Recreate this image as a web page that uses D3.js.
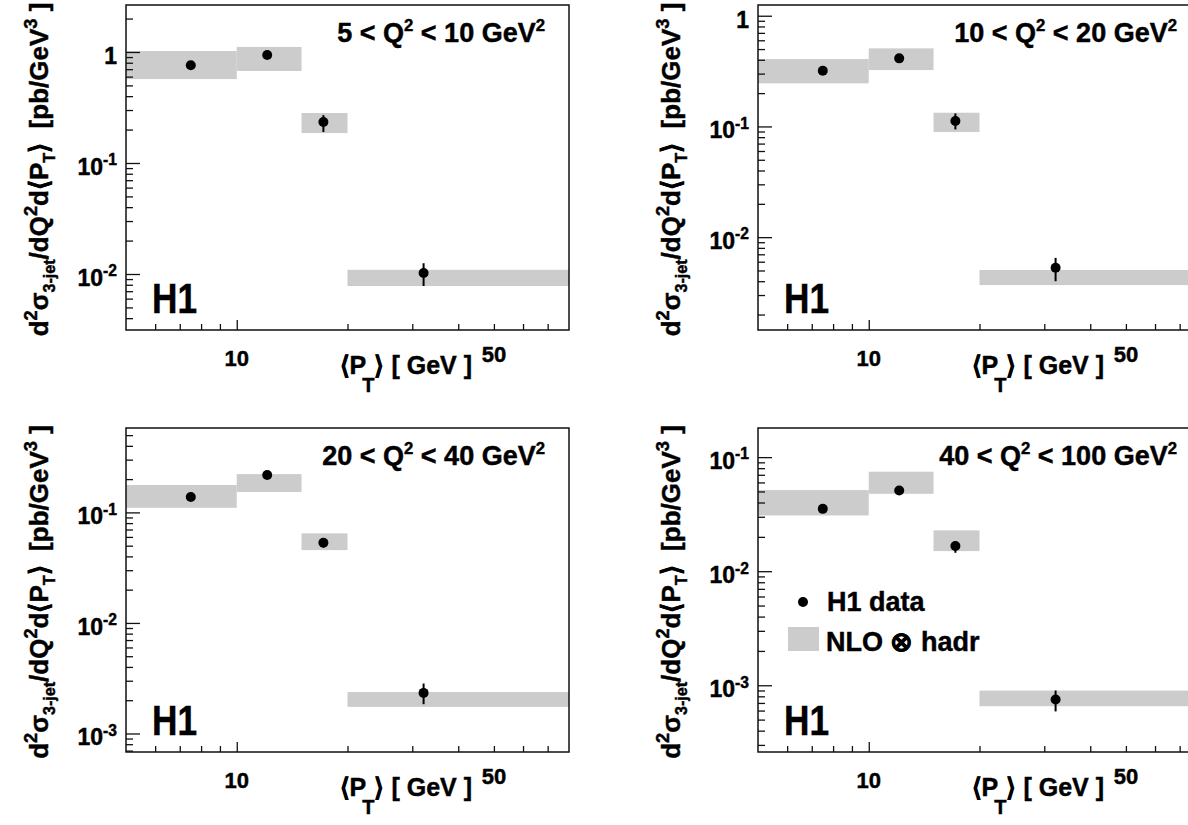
<!DOCTYPE html>
<html><head><meta charset="utf-8">
<script src="https://cdn.jsdelivr.net/npm/d3@7"></script>
<style>
body{margin:0;background:#fff}
svg{display:block}
text{font-family:"Liberation Sans", Arial, Helvetica, sans-serif;font-weight:bold;fill:#000;stroke:#000;stroke-width:0.45px;white-space:pre}
</style>
</head><body>
<svg id="c" width="1188" height="825"></svg>
<script>
// ---------------- data ----------------
const ptBinEdges = [5, 10, 15, 20, 80];
const ptMeans = [7.5, 12.1, 17.2, 32.2];
const xRange = [5, 80];
const xLabelValues = [10, 50];
const xMinorTicks = [6, 7, 8, 9, 20, 30, 40, 50, 60, 70];
const xMajorTicks = [10];

const q2Low = [5, 10, 20, 40];
const q2High = [10, 20, 40, 100];
const yMin = [0.00313, 0.00145, 0.00068, 0.00026];
const yMax = [2.65, 1.25, 0.58, 0.18];

// 5 < Q2 < 10
const dataQ1 = [0.76, 0.94, 0.234, 0.0102];
const errLoQ1 = [0.71, 0.885, 0.19, 0.0078];
const errHiQ1 = [0.81, 0.995, 0.27, 0.0125];
const nloLoQ1 = [0.57, 0.674, 0.186, 0.0078];
const nloHiQ1 = [1.02, 1.11, 0.282, 0.0109];
// 10 < Q2 < 20
const dataQ2 = [0.319, 0.412, 0.112, 0.0053];
const errLoQ2 = [0.30, 0.39, 0.094, 0.0040];
const errHiQ2 = [0.34, 0.435, 0.131, 0.0065];
const nloLoQ2 = [0.245, 0.323, 0.089, 0.00369];
const nloHiQ2 = [0.406, 0.507, 0.133, 0.00505];
// 20 < Q2 < 40
const dataQ3 = [0.138, 0.218, 0.0531, 0.00233];
const errLoQ3 = [0.13, 0.205, 0.048, 0.00184];
const errHiQ3 = [0.146, 0.231, 0.058, 0.00283];
const nloLoQ3 = [0.110, 0.153, 0.0456, 0.00174];
const nloHiQ3 = [0.177, 0.222, 0.0646, 0.00237];
// 40 < Q2 < 100
const dataQ4 = [0.0352, 0.051, 0.0166, 0.00075];
const errLoQ4 = [0.033, 0.048, 0.0145, 0.00059];
const errHiQ4 = [0.0375, 0.054, 0.0183, 0.0009];
const nloLoQ4 = [0.0308, 0.0477, 0.015, 0.000655];
const nloHiQ4 = [0.0514, 0.0745, 0.0228, 0.000898];

const legendLabels = ["H1 data", "NLO \u2297 hadr"];

// tables built from the arrays
const dataAll = [dataQ1, dataQ2, dataQ3, dataQ4];
const errLoAll = [errLoQ1, errLoQ2, errLoQ3, errLoQ4];
const errHiAll = [errHiQ1, errHiQ2, errHiQ3, errHiQ4];
const nloLoAll = [nloLoQ1, nloLoQ2, nloLoQ3, nloLoQ4];
const nloHiAll = [nloHiQ1, nloHiQ2, nloHiQ3, nloHiQ4];

// ---------------- drawing ----------------
const svg = d3.select('#c');
const layout = [
  {x0:126, x1:569, y0:5, y1:330},
  {x0:758, x1:1201, y0:5, y1:330},
  {x0:126, x1:569, y0:428, y1:752},
  {x0:758, x1:1201, y0:428, y1:752}
];
const GRAY = '#cccccc';

function rich(sel, segs, size, supRatio) {
  const sr = supRatio || 0.62;
  let cur = 0;
  segs.forEach(s => {
    const mode = s[1] || 'n';
    let off = 0, fs = size;
    if (mode === 'sup') { off = -0.42 * size; fs = sr * size; }
    if (mode === 'sub') { off = 0.28 * size; fs = 0.62 * size; }
    if (mode === 'drop') { off = 0.72 * size; fs = 0.8 * size; }
    const t = sel.append('tspan').attr('dy', off - cur).attr('font-size', fs).text(s[0]);
    if (s[2] !== undefined) t.attr('dx', s[2]);
    cur = off;
  });
}

function styleAxis(a) {
  a.select('.domain').remove();
  a.selectAll('line').attr('stroke', '#111').attr('stroke-width', 1.3);
  a.selectAll('text').remove();
}

layout.forEach((L, i) => {
  const x = d3.scaleLog().domain(xRange).range([L.x0, L.x1]);
  const y = d3.scaleLog().domain([yMin[i], yMax[i]]).range([L.y1, L.y0]);
  const g = svg.append('g');
  const idx = d3.range(ptMeans.length);

  // NLO bands
  g.selectAll('rect.nlo').data(idx).join('rect').attr('class', 'nlo')
    .attr('x', j => x(ptBinEdges[j]))
    .attr('width', j => x(ptBinEdges[j + 1]) - x(ptBinEdges[j]))
    .attr('y', j => y(nloHiAll[i][j]))
    .attr('height', j => y(nloLoAll[i][j]) - y(nloHiAll[i][j]))
    .attr('fill', GRAY);

  // error bars
  g.selectAll('line.err').data(idx).join('line').attr('class', 'err')
    .attr('x1', j => x(ptMeans[j])).attr('x2', j => x(ptMeans[j]))
    .attr('y1', j => y(errLoAll[i][j])).attr('y2', j => y(errHiAll[i][j]))
    .attr('stroke', '#000').attr('stroke-width', 2);

  // markers
  g.selectAll('circle.pt').data(idx).join('circle').attr('class', 'pt')
    .attr('cx', j => x(ptMeans[j])).attr('cy', j => y(dataAll[i][j]))
    .attr('r', 5).attr('fill', '#000');

  // frame
  g.append('rect').attr('x', L.x0).attr('y', L.y0)
    .attr('width', L.x1 - L.x0).attr('height', L.y1 - L.y0)
    .attr('fill', 'none').attr('stroke', '#111').attr('stroke-width', 1.5);

  // y ticks
  const lo = Math.log10(yMin[i]), hi = Math.log10(yMax[i]);
  const majors = d3.range(Math.ceil(lo), Math.floor(hi) + 1).map(e => Math.pow(10, e));
  const minors = [];
  for (let e = Math.floor(lo); e <= Math.ceil(hi); e++) {
    for (let k = 2; k <= 9; k++) {
      const v = k * Math.pow(10, e);
      if (v >= yMin[i] && v <= yMax[i]) minors.push(v);
    }
  }
  g.append('g').attr('transform', `translate(${L.x0},0)`)
    .call(d3.axisRight(y).tickValues(minors).tickSize(7).tickFormat('')).call(styleAxis);
  g.append('g').attr('transform', `translate(${L.x0},0)`)
    .call(d3.axisRight(y).tickValues(majors).tickSize(14).tickFormat('')).call(styleAxis);

  // y tick labels
  majors.forEach(v => {
    const e = Math.round(Math.log10(v));
    const t = g.append('text').attr('x', L.x0 - 9).attr('y', y(v) + 12)
      .attr('text-anchor', 'end').attr('font-size', 23);
    if (e === 0) rich(t, [['1']], 23);
    else rich(t, [['10'], [String(e), 'sup']], 23, 0.68);
  });

  // x ticks
  g.append('g').attr('transform', `translate(0,${L.y1})`)
    .call(d3.axisTop(x).tickValues(xMinorTicks).tickSize(6).tickFormat('')).call(styleAxis);
  g.append('g').attr('transform', `translate(0,${L.y1})`)
    .call(d3.axisTop(x).tickValues(xMajorTicks).tickSize(10).tickFormat('')).call(styleAxis);

  // x tick labels
  xLabelValues.forEach(v => {
    g.append('text').attr('x', x(v)).attr('y', L.y1 + (v === 50 ? 32 : 36))
      .attr('text-anchor', 'middle').attr('font-size', 22).text(String(v));
  });

  // x title
  const xt = g.append('text').attr('x', L.x1 - 97).attr('y', L.y1 + 44)
    .attr('text-anchor', 'end').attr('font-size', 25);
  rich(xt, [['\u27E8P'], ['T', 'drop', -4], ['\u27E9 [ GeV ]']], 25);

  // y title
  const yt = g.append('text')
    .attr('transform', `translate(${L.x0 - 78},${(L.y0 + L.y1) / 2 + 2}) rotate(-90)`)
    .attr('text-anchor', 'middle').attr('font-size', 26);
  rich(yt, [['d'], ['2', 'sup'], ['\u03C3'], ['3-jet', 'sub'], ['/dQ'], ['2', 'sup'],
            ['d\u27E8P'], ['T', 'sub'], ['\u27E9  [pb/GeV'], ['3', 'sup'], [' ]']], 26, 0.7);

  // Q2 range title
  const qt = g.append('text').attr('x', L.x1 - 24).attr('y', L.y0 + 37)
    .attr('text-anchor', 'end').attr('font-size', 27);
  rich(qt, [[`${q2Low[i]} < Q`], ['2', 'sup'], [` < ${q2High[i]} GeV`], ['2', 'sup']], 27);

  // H1 label
  g.append('text').attr('transform', `translate(${L.x0 + 26},${L.y1 - 17}) scale(0.82,1)`)
    .attr('font-size', 43).text('H1');

  // legend in last panel
  if (i === 3) {
    const lg = svg.append('g').attr('transform', `translate(${L.x0},${L.y0})`);
    lg.append('circle').attr('cx', 45).attr('cy', 174).attr('r', 5).attr('fill', '#000');
    lg.append('text').attr('x', 69).attr('y', 183).attr('font-size', 27).text(legendLabels[0]);
    lg.append('rect').attr('x', 30).attr('y', 199).attr('width', 31).attr('height', 24).attr('fill', GRAY);
    lg.append('text').attr('x', 68).attr('y', 223).attr('font-size', 27).text(legendLabels[1]);
  }
});
</script>
</body></html>
